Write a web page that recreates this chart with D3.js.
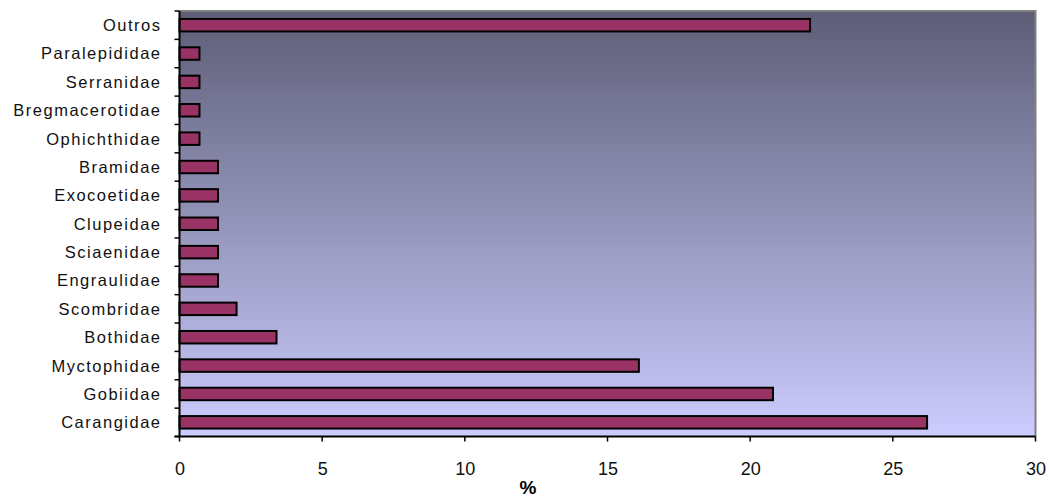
<!DOCTYPE html>
<html>
<head>
<meta charset="utf-8">
<script src="https://cdn.jsdelivr.net/npm/d3@7"></script>
<style>
  html, body { margin: 0; padding: 0; background: #ffffff; }
  svg { display: block; }
  .cat { font-family: "Liberation Sans", Arial, sans-serif; font-size: 16.5px; letter-spacing: 1.5px; fill: #111; }
  .tick-label { font-family: "Liberation Sans", Arial, sans-serif; font-size: 18px; fill: #111; }
  .unit { font-family: "Liberation Sans", Arial, sans-serif; font-size: 19px; font-weight: bold; fill: #000; }
</style>
</head>
<body>
<svg id="chart" width="1050" height="499"></svg>
<script>
// Families, listed top to bottom
const families = [
  "Outros", "Paralepididae", "Serranidae", "Bregmacerotidae", "Ophichthidae",
  "Bramidae", "Exocoetidae", "Clupeidae", "Sciaenidae", "Engraulidae",
  "Scombridae", "Bothidae", "Myctophidae", "Gobiidae", "Carangidae"
];
// Share of each family (%)
const percentages = [
  22.1, 0.7, 0.7, 0.7, 0.7,
  1.35, 1.35, 1.35, 1.35, 1.35,
  2.0, 3.4, 16.1, 20.8, 26.2
];
const xTicks = [0, 5, 10, 15, 20, 25, 30];
const xTitle = "%";

const svg = d3.select("#chart");
const plot = { left: 179.5, top: 11, right: 1035.5, bottom: 436.5 };

const x = d3.scaleLinear().domain([0, 30]).range([plot.left, plot.right]);
const y = d3.scaleBand()
  .domain(families)
  .range([plot.top, plot.bottom])
  .paddingInner(0.56)
  .paddingOuter(0.28);

// Plot-area background: vertical gradient from slate to pale periwinkle
const defs = svg.append("defs");
const grad = defs.append("linearGradient")
  .attr("id", "plotFill").attr("x1", 0).attr("y1", 0).attr("x2", 0).attr("y2", 1);
grad.append("stop").attr("offset", "0%").attr("stop-color", "#5d5d77");
grad.append("stop").attr("offset", "100%").attr("stop-color", "#ccccff");

svg.append("rect")
  .attr("x", plot.left).attr("y", plot.top)
  .attr("width", plot.right - plot.left).attr("height", plot.bottom - plot.top)
  .attr("fill", "url(#plotFill)");

// Gray border on top and right
svg.append("path")
  .attr("d", `M${plot.left},${plot.top}H${plot.right}V${plot.bottom}`)
  .attr("fill", "none").attr("stroke", "#808080").attr("stroke-width", 2);

// Bars
const data = families.map((f, i) => ({ family: f, value: percentages[i] }));
svg.append("g").selectAll("rect")
  .data(data)
  .join("rect")
  .attr("x", x(0))
  .attr("y", d => y(d.family))
  .attr("width", d => x(d.value) - x(0))
  .attr("height", y.bandwidth())
  .attr("fill", "#993366")
  .attr("stroke", "#000")
  .attr("stroke-width", 2);

// Category axis: line, ticks at band boundaries, labels
const step = y.step();
const boundaries = d3.range(families.length + 1).map(i => plot.top + i * step);
svg.append("g").selectAll("line")
  .data(boundaries)
  .join("line")
  .attr("x1", plot.left - 5).attr("x2", plot.left)
  .attr("y1", d => d).attr("y2", d => d)
  .attr("stroke", "#000").attr("stroke-width", 1.5);

svg.append("line")
  .attr("x1", plot.left).attr("x2", plot.left)
  .attr("y1", plot.top).attr("y2", plot.bottom)
  .attr("stroke", "#000").attr("stroke-width", 2);

svg.append("g").selectAll("text")
  .data(families)
  .join("text")
  .attr("class", "cat")
  .attr("x", 161.5)
  .attr("y", d => y(d) + y.bandwidth() / 2)
  .attr("dy", "0.36em")
  .attr("text-anchor", "end")
  .text(d => d);

// Value axis
svg.append("line")
  .attr("x1", plot.left - 5).attr("x2", plot.right)
  .attr("y1", plot.bottom).attr("y2", plot.bottom)
  .attr("stroke", "#000").attr("stroke-width", 2);

svg.append("g").selectAll("line")
  .data(xTicks)
  .join("line")
  .attr("x1", d => x(d)).attr("x2", d => x(d))
  .attr("y1", plot.bottom).attr("y2", plot.bottom + 5)
  .attr("stroke", "#000").attr("stroke-width", 1.5);

svg.append("g").selectAll("text")
  .data(xTicks)
  .join("text")
  .attr("class", "tick-label")
  .attr("x", d => x(d) + 0.5)
  .attr("y", 475)
  .attr("text-anchor", "middle")
  .text(d => d);

svg.append("text")
  .attr("class", "unit")
  .attr("x", 528)
  .attr("y", 494)
  .attr("text-anchor", "middle")
  .text(xTitle);
</script>
</body>
</html>
